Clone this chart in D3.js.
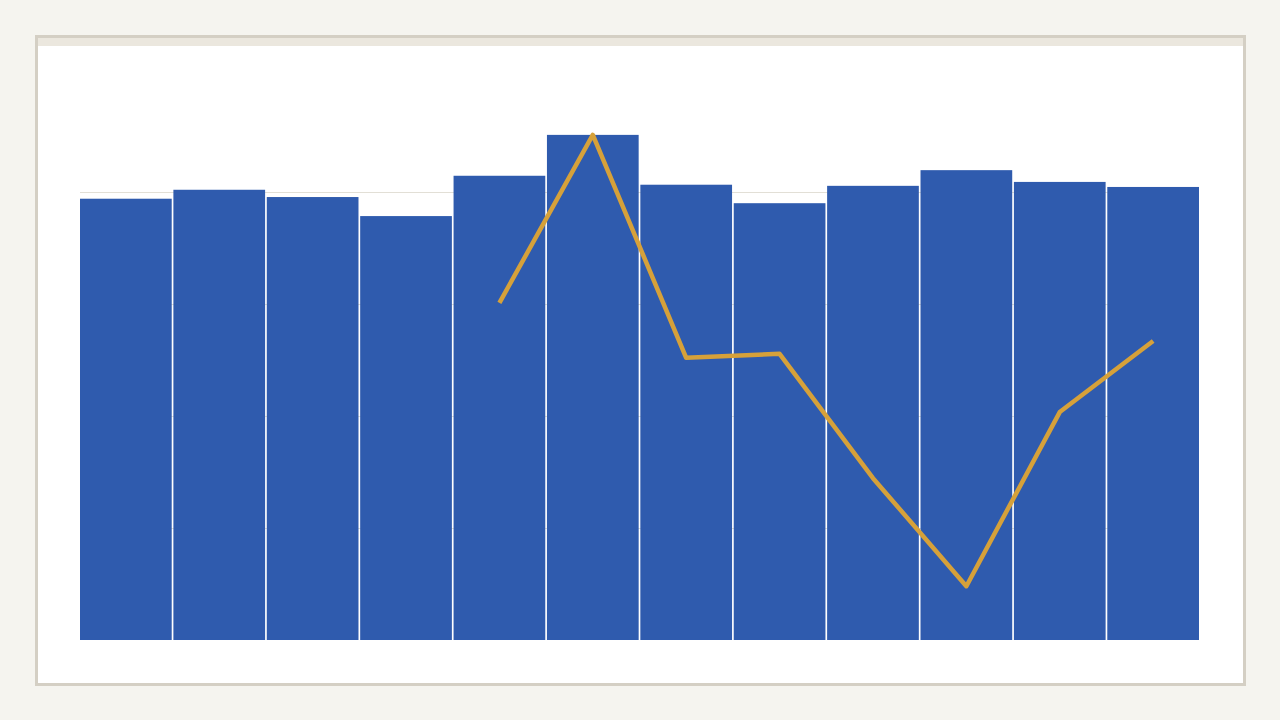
<!DOCTYPE html>
<html>
<head>
<meta charset="utf-8">
<script src="https://cdn.jsdelivr.net/npm/d3@7"></script>
<style>
  html, body { margin: 0; padding: 0; background: #f5f4ef; }
  svg { display: block; }
</style>
</head>
<body>
<div id="chart"></div>
<script>
'use strict';

// data
var categories = ['1','2','3','4','5','6','7','8','9','10','11','12'];
var barValues = [78.8, 80.4, 79.1, 75.7, 82.9, 90.2, 81.3, 78.0, 81.1, 83.9, 81.8, 80.9];
var lineValues = [null, null, null, null, 60.2, 90.2, 50.4, 51.1, 28.9, 9.6, 40.7, 53.4];
var yTicks = [0, 20, 40, 60, 80];

var width = 1280, height = 720;
var margin = {top: 80, right: 81, bottom: 80, left: 80};

var svg = d3.select('#chart').append('svg')
  .attr('width', width)
  .attr('height', height);

// card
svg.append('rect')
  .attr('x', 36.5).attr('y', 36.5)
  .attr('width', 1208).attr('height', 648)
  .attr('fill', '#ffffff')
  .attr('stroke', '#d4cfc4')
  .attr('stroke-width', 3);

svg.append('rect')
  .attr('x', 38).attr('y', 38)
  .attr('width', 1205).attr('height', 8)
  .attr('fill', '#ebe7de');

var x = d3.scaleBand()
  .domain(categories)
  .range([margin.left, width - margin.right])
  .paddingInner(0.018)
  .paddingOuter(0);

var y = d3.scaleLinear()
  .domain([0, 100])
  .range([height - margin.bottom, margin.top]);

// gridlines behind bars
svg.append('g')
  .selectAll('line')
  .data(yTicks.filter(function(d) { return d > 0; }))
  .join('line')
  .attr('x1', margin.left)
  .attr('x2', width - margin.right)
  .attr('y1', function(d) { return Math.round(y(d)) + 0.5; })
  .attr('y2', function(d) { return Math.round(y(d)) + 0.5; })
  .attr('stroke', '#e2dfd6')
  .attr('stroke-width', 1);

svg.append('g')
  .selectAll('rect')
  .data(barValues)
  .join('rect')
  .attr('x', function(d, i) { return x(categories[i]); })
  .attr('y', function(d) { return y(d); })
  .attr('width', x.bandwidth())
  .attr('height', function(d) { return y(0) - y(d); })
  .attr('fill', '#2f5bae');

var line = d3.line()
  .defined(function(d) { return d != null; })
  .x(function(d, i) { return x(categories[i]) + x.bandwidth() / 2; })
  .y(function(d) { return y(d); });

svg.append('path')
  .datum(lineValues)
  .attr('d', line)
  .attr('fill', 'none')
  .attr('stroke', '#d6a13a')
  .attr('stroke-width', 4.5)
  .attr('stroke-linejoin', 'round')
  .attr('stroke-linecap', 'butt');
</script>
</body>
</html>
